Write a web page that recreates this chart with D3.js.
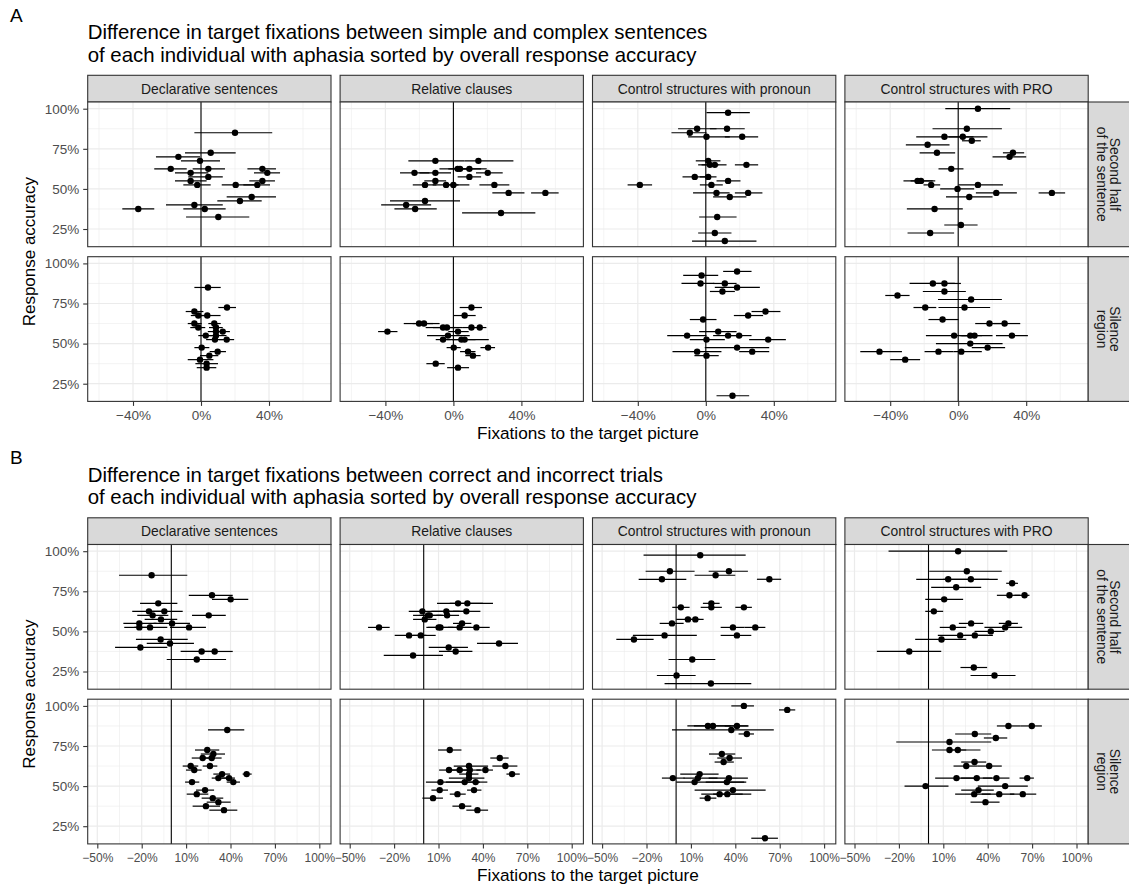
<!DOCTYPE html>
<html>
<head>
<meta charset="utf-8">
<script src="https://cdn.jsdelivr.net/npm/d3@7"></script>
<style>
  html, body { margin: 0; padding: 0; background: #fff; }
  svg { display: block; font-family: "Liberation Sans", Arial, Helvetica, sans-serif; }
</style>
</head>
<body>
<svg id="chart" width="1129" height="888"></svg>
<script>
// ---- categories and labels ----
const conditions = ["Declarative sentences", "Relative clauses", "Control structures with pronoun", "Control structures with PRO"];
const regions = [["Second half", "of the sentence"], ["Silence", "region"]];
const accuracyTicks = [25, 50, 75, 100];
const accuracyMinor = [37.5, 62.5, 87.5];
const fixTicksA = [-40, 0, 40];
const fixMinorA = [-60, -20, 20, 60];
const fixTicksB = [-50, -20, 10, 40, 70, 100];
const fixMinorB = [-35, -5, 25, 55, 85];
const titleA = ["Difference in target fixations between simple and complex sentences",
                "of each individual with aphasia sorted by overall response accuracy"];
const titleB = ["Difference in target fixations between correct and incorrect trials",
                "of each individual with aphasia sorted by overall response accuracy"];
const yTitle = "Response accuracy";
const xTitle = "Fixations to the target picture";

// ---- A: simple minus complex sentences; rows are [accuracy %, estimate %, lower %, upper %] ----
const scDeclarativeSecond = [
  [85, 20, -3.9, 41.9], [72.5, 5.7, -9.4, 20.4], [70, -13.3, -26.5, -0.6], [67.5, -0.6, -11.8, 11.2],
  [62.5, -17.8, -27.5, -8.4], [62.5, 4.3, -4.9, 14.1], [62.5, 36.1, 27.3, 44.1], [60, -6.1, -15.3, 4.3],
  [60, 39, 31.2, 46.5], [57.5, 4.3, -7.5, 12.8], [55, -6.1, -15.3, 3.3], [55, 36.1, 28.4, 43.5],
  [52.5, -2.2, -10.4, 5.7], [52.5, 20.4, 12.2, 32.7], [52.5, 33.1, 24.9, 40.6], [45, 29.8, 15.1, 44.1],
  [42.5, 22.9, 9.6, 35.7], [40, -3.9, -20.6, 12.8], [37.5, -36.9, -46.3, -27.5], [37.5, 2.2, -10.4, 14.5],
  [32.5, 10.2, -8.8, 28.4]
];
const scDeclarativeSilence = [
  [85, 4.1, -3.9, 11.6], [72.5, 15.3, 10.2, 20.6], [70, -3.9, -9, 1.4], [67.5, -1.6, -6, 3],
  [67.5, 3.7, -1, 11.5], [62.5, -3.9, -7.8, 0.4], [62.5, 7.8, 4.3, 11.6], [60, -1.6, -6.3, 2.5],
  [60, 8.8, 4.7, 12.8], [57.5, 8.8, 4, 13], [57.5, 12.8, 8.5, 17], [55, 2.8, -1.6, 7.3],
  [55, 8.8, 2.7, 15], [52.5, 8.2, 3, 13], [52.5, 15.1, 10.5, 19.5], [47.5, 0.4, -3.9, 4.9],
  [45, 9.8, 5.1, 14.7], [42.5, 4.9, -0.6, 10.2], [40, -0.6, -7.8, 7.3], [37.5, 3.3, -3.3, 10],
  [35, 3.3, -2.5, 9]
];
const scRelativeSecond = [
  [67.5, -10.6, -26.5, 6.5], [67.5, 14.7, 6.5, 35.3], [62.5, 2.5, -8.2, 10], [62.5, 3.9, -3, 16.3],
  [62.5, 9.4, 4.5, 19.6], [60, -22.9, -31.4, -14.1], [60, -10.6, -20, -1.4], [60, 20.2, 13.3, 29],
  [57.5, 9.4, 2.5, 16.3], [55, -10.6, -17.1, -4.3], [52.5, -16.7, -23.9, -10], [52.5, -4.3, -12.2, 3],
  [52.5, 0, -5, 9.4], [52.5, 24.1, 15.3, 32.9], [47.5, 32.5, 22.9, 41.8], [47.5, 54.1, 45.7, 61.9],
  [42.5, -16.7, -37.3, 3.9], [40, -27.8, -42.5, -13.1], [37.5, -22.5, -34.7, -9.8], [35, 28, 5.1, 48.2]
];
const scRelativeSilence = [
  [72.5, 10.6, 3.7, 16.8], [67.5, 6.6, 0.2, 13.1], [62.5, -20.2, -29.2, -12], [62.5, -17.3, -24, -8.1],
  [60, -6.1, -16.3, 2], [60, -3.8, -12, 5.6], [60, 10.6, 5.6, 15.5], [60, 15.5, 11, 19.4],
  [57.5, -38.8, -44.3, -32.9], [57.5, 2.7, -3, 9], [55, -3.2, -15.5, 9.6], [52.5, -6.1, -10.4, -1.5],
  [52.5, 4.7, -4, 13], [52.5, 6.6, -1, 20.8], [47.5, 0.2, -4, 4.3], [47.5, 20.4, 15.9, 24.5],
  [45, 8.6, 3.9, 13], [42.5, 11.5, 7, 16], [37.5, -10.4, -15.9, -5.1], [35, 2.7, -3.7, 9.2]
];
const scPronounSecond = [
  [97.5, 13.1, 0.4, 25.9], [87.5, -5.1, -16.3, 6.3], [87.5, 12.5, 2.4, 22.9], [85, -9.4, -20.2, 0.4],
  [82.5, 0.4, -10.4, 14.1], [82.5, 21.4, 11.2, 30.8], [67.5, 1.4, -5.9, 8.6], [65, 2.4, -2.5, 7.5],
  [65, 5.3, -4.5, 12.2], [65, 23.9, 17.1, 30.8], [57.5, -6.5, -13.7, 0.4], [57.5, 1.4, -3.5, 6.3],
  [55, 13.1, 6.3, 20.4], [52.5, -38.8, -46, -31.6], [52.5, 3.3, -3.5, 10], [47.5, 6.3, -7.5, 14],
  [47.5, 24.9, 17.1, 33.3], [45, 14.1, 4.3, 23.9], [32.5, 6.7, -3.9, 18.1], [22.5, 5.3, -4.5, 15.1],
  [17.5, 11.2, -8.1, 29.8]
];
const scPronounSilence = [
  [95, 18.4, 10.2, 26.9], [92.5, -2.5, -13.3, 7.3], [87.5, -3.1, -14.3, 5], [87.5, 11.2, 4.3, 18.1],
  [85, 18.4, 5.3, 31.8], [82.5, 9.8, 2.4, 17.1], [70, 35.1, 26.9, 43.9], [67.5, 24.9, 16.5, 33.7],
  [65, -1.6, -9.4, 6.3], [57.5, 7.3, -3.9, 18.1], [55, -11, -22.7, 0.4], [55, 13.1, 4.3, 21.9],
  [55, 19.6, 13.1, 26.9], [52.5, 0.4, -9.4, 11.2], [52.5, 36.7, 25.5, 47.1], [47.5, 18.4, -0.6, 37.3],
  [45, -5.1, -19.6, 9.2], [45, 27.3, 19.6, 37.3], [42.5, 0.4, -6.7, 7.6], [17.5, 15.7, 6.3, 25.5]
];
const scProSecond = [
  [100, 11.6, -7.6, 30.6], [87.5, 5.1, -15.1, 25.7], [82.5, -8.1, -24.7, 9], [82.5, 2.7, -5.7, 17.2],
  [80, 8, 2.2, 13.3], [77.5, -18, -30.8, -5.1], [72.5, -12.5, -22.7, -1.8], [72.5, 32.2, 26.3, 38.8],
  [70, 30.2, 20.2, 40], [62.5, -4.1, -11.6, 3.1], [55, -23.9, -32.2, -15], [55, -21.9, -28, -13.5],
  [52.5, -15.9, -20.4, -10.6], [52.5, 11.6, 0.2, 26.3], [50, -0.4, -10.6, 9.4], [47.5, 22.4, 10.4, 34.5],
  [47.5, 55.1, 47.3, 62.9], [45, 6.5, -7.2, 20.2], [37.5, -13.9, -30.2, 2.7], [27.5, 1.6, -8.2, 11.4],
  [22.5, -16.5, -29.8, -2.4]
];
const scProSilence = [
  [87.5, -14.9, -28.6, -2], [87.5, -8.1, -16, 1.6], [82.5, -8.1, -20.8, 4.5], [80, -35.7, -42.9, -28.6],
  [77.5, 7.6, -11.9, 25.7], [72.5, -19.4, -26.3, -12.9], [72.5, 3.7, -11.6, 18.8], [65, -9.2, -17.5, 0.2],
  [62.5, 18.4, 10, 26.7], [62.5, 27.3, 20.8, 36.5], [55, -2.4, -19, 10], [55, 7.1, 2, 14],
  [55, 9.6, 1.2, 20.2], [55, 31.6, 22.2, 41], [50, 7.1, -13.1, 26.1], [47.5, 17.3, 8, 27.6],
  [45, -46.3, -57.6, -33.1], [45, -11.6, -19.8, -2.7], [45, 1.8, -2.7, 13.9], [40, -31.2, -40, -22.4]
];

// ---- B: correct minus incorrect trials ----
const ciDeclarativeSecond = [
  [85, -13.3, -35.3, 10.8], [72.5, 27.5, 11.8, 41.5], [70, 40.1, 27.5, 52], [67.5, -8.8, -21.1, 4.1],
  [62.5, -15.1, -26.4, -3], [62.5, -4.7, -15, 7.7], [60, -12.6, -23, -2], [60, 25.3, 14, 36.8],
  [57.5, -7, -18, 4], [55, -21.6, -32.4, -10], [55, 0.5, -12, 12.6], [52.5, -21.6, -31.8, -12],
  [52.5, -14.4, -25, -2.7], [52.5, 12, -0.9, 23.4], [45, -7.2, -23.9, 11.1], [42.5, -0.9, -16.6, 15.3],
  [40, -20.9, -38, -2.7], [37.5, 20.5, 6.3, 28.4], [37.5, 29.3, 21.6, 41.5], [32.5, 17.2, -3.1, 37]
];
const ciDeclarativeSilence = [
  [85, 37.8, 24.8, 49.3], [72.5, 24.3, 16, 32.4], [70, 28.4, 19.9, 36.3], [67.5, 21.2, 13.8, 29.5],
  [67.5, 27.3, 21, 34], [62.5, 13.1, 7.7, 18.2], [62.5, 26.1, 21.2, 31.1], [60, 15.5, 9.9, 20.5],
  [57.5, 34.3, 28.4, 39.7], [57.5, 50.9, 48.2, 54.3], [55, 31.8, 27.3, 37.4], [55, 39, 34, 43],
  [52.5, 41.9, 37.4, 46.4], [52.5, 14, 9.3, 18.9], [47.5, 22.8, 16.7, 28.9], [45, 17.2, 10.4, 25],
  [42.5, 28, 20.5, 35.1], [40, 31.8, 23.9, 40.1], [37.5, 23.4, 14.4, 32.9], [35, 35.6, 25.7, 44.6]
];
const ciRelativeSecond = [
  [67.5, 23.2, 9, 46.8], [67.5, 29.5, 17.6, 40], [62.5, -0.9, -10.1, 24.3], [62.5, 15.3, 5.2, 26.6],
  [62.5, 28.8, 19.8, 38.3], [60, 2.9, -7.2, 13], [60, 4.1, -3, 12], [60, 15.8, 8.6, 23.9],
  [57.5, 0.7, -7.2, 8.6], [55, 25.9, 19.8, 32.2], [52.5, -30.2, -37.6, -23], [52.5, 10.1, 1.8, 20],
  [52.5, 11.3, 3, 24.3], [52.5, 24.3, 16.4, 32.2], [52.5, 35.6, 27.7, 44.6], [47.5, -9.9, -19.6, 1.8],
  [47.5, -2, -7.2, 8.1], [42.5, 50.9, 36, 63.7], [40, 16.9, 3.4, 29.9], [37.5, 21.6, 10.3, 32.9],
  [35, -7.2, -27, 13]
];
const ciRelativeSilence = [
  [72.5, 17.6, 9.7, 25.5], [67.5, 51.4, 45, 57.4], [62.5, 55.2, 46.4, 63.3], [62.5, 30.6, 20.3, 43.5],
  [60, 17.1, 10.4, 24.3], [60, 24.3, 17.6, 30.6], [60, 31.1, 24.3, 38.5], [60, 41.7, 35.6, 46.8],
  [57.5, 59.7, 55.9, 64.9], [57.5, 30.6, 24, 37], [55, 30.6, 17, 41], [52.5, 11.3, 1.5, 25],
  [52.5, 27.7, 15, 38], [52.5, 35.1, 25, 43], [47.5, 10.8, 5.2, 16.4], [47.5, 34, 29.3, 39],
  [45, 22.8, 17.6, 28.4], [42.5, 6.3, -0.9, 13], [37.5, 25.9, 19.4, 32.2], [35, 36.3, 28.8, 43.5]
];
const ciPronounSecond = [
  [97.5, 16.3, -22, 47], [87.5, -4.2, -20.6, 12.5], [87.5, 35.7, 22, 48.5], [85, 26.7, 12.5, 40],
  [82.5, -9.6, -25.3, 6.9], [82.5, 63, 54.6, 71], [67.5, 23.8, 18.1, 29.4], [65, 23.8, 16.6, 30.9],
  [65, 3.2, -2.6, 9.1], [65, 45.8, 40, 51.2], [57.5, 8, 0.1, 15.9], [57.5, 13, 5.7, 18.6],
  [55, -2.8, -11.1, 5.1], [52.5, 38.4, 30.1, 46.3], [52.5, 53.5, 46.3, 60.3], [47.5, -7.8, -29.2, 14],
  [47.5, 41.1, 30.1, 50.8], [45, -28.5, -40.4, -15.2], [32.5, 10.9, -5.1, 26.5], [22.5, 0.3, -13, 13.2],
  [17.5, 23.5, -7.8, 50.8]
];
const ciPronounSilence = [
  [100, 45.8, 37.3, 52.6], [97.5, 75.1, 69.5, 80.5], [87.5, 21.5, 7.6, 37], [87.5, 24.9, 12, 48.5],
  [87.5, 41.1, 32.8, 49], [85, 37.3, -2.8, 66], [82.5, 47.8, 42.2, 52.6], [70, 30.9, 22.2, 40],
  [67.5, 36.1, 27.8, 44.5], [65, 32.1, 26, 39], [57.5, 15.9, 2.8, 28.7], [55, -2.2, -9.6, 5.7],
  [55, 14.7, 5, 28], [55, 35.7, 22, 48.5], [52.5, 12.5, 0.1, 47.4], [52.5, 34.3, 20, 46],
  [47.5, 38.4, 12.5, 60.5], [45, 29.4, 17, 50.8], [45, 34.6, 25, 45], [42.5, 21.3, 15.9, 27.2],
  [17.5, 60, 50.8, 68.8]
];
const ciProSecond = [
  [100, 20, -27, 53.2], [87.5, 25.9, 0.5, 49.5], [82.5, 13.3, -8.3, 41], [82.5, 28.6, 10, 46.8],
  [80, 56.5, 52.5, 60.4], [77.5, 18.7, 1.8, 35.6], [72.5, 54.7, 46.2, 62], [72.5, 64.9, 58.1, 68.2],
  [70, 10.6, -2.2, 23.4], [62.5, 3.6, -2.2, 9.9], [55, 28.8, 20.5, 37], [55, 54, 47.5, 60.4],
  [52.5, 16.4, 7.6, 25.5], [52.5, 51.8, 37.8, 63.3], [50, 42.1, 31.1, 51.4], [47.5, 21.4, 6.3, 40.1],
  [47.5, 31.3, 24.3, 43.5], [45, 8.8, -9, 25.5], [37.5, -13, -34.9, 8.6], [27.5, 30.6, 21.6, 39.6],
  [22.5, 44.6, 28.4, 58.8]
];
const ciProSilence = [
  [87.5, 54, 46.2, 62], [87.5, 69.8, 62, 76.6], [82.5, 31.3, 18, 42.4], [80, 45.5, 37.4, 53.2],
  [77.5, 14.2, -21.8, 42.4], [72.5, 14.2, 2.3, 25.5], [72.5, 19.8, 13, 35.1], [65, 31.1, 22.1, 39],
  [62.5, 25.5, 16.9, 33.3], [62.5, 41, 33.3, 49.5], [55, 18.9, 4.5, 33.3], [55, 32.6, 22, 43],
  [55, 45.9, 36.7, 54.7], [55, 66.7, 61.5, 71.2], [50, -2, -16.2, 13.5], [50, 51.8, 33.3, 67.1],
  [47.5, 33.8, 22.1, 44.1], [45, 30.9, 18, 42], [45, 47.8, 36, 58], [45, 63.7, 55, 72.8],
  [40, 38.5, 28.4, 48]
];

// ---- layout ----
const W = 1129;
const colLeft0 = 87.7, colStep = 252.4, panelW = 243.3;
const stripTop = 75.3, stripH = 26.7;
const rowTop0 = 102, rowH = 144.7, rowGap = 10;
const rightStripX = colLeft0 + 3 * colStep + panelW;
const rightStripW = W - rightStripX;
const sectionOffset = 442.5;
const FONT_TICK = 13.5, FONT_STRIP = 13.9, FONT_XAXIS = 17.2, FONT_YAXIS = 17, FONT_TITLE = 20.4, FONT_TAG = 19;

const pct = v => (v < 0 ? "\u2212" : "") + Math.abs(v) + "%";

const parts = [
  { tag: "A", title: titleA, offset: 0, xDomain: [-66.65, 76.47], ticks: fixTicksA, minor: fixMinorA, xTickFont: FONT_TICK,
    data: [[scDeclarativeSecond, scRelativeSecond, scPronounSecond, scProSecond],
           [scDeclarativeSilence, scRelativeSilence, scPronounSilence, scProSilence]] },
  // six tick labels per panel sit close together, so they get a slightly smaller size
  { tag: "B", title: titleB, offset: sectionOffset, xDomain: [-56.49, 107.9], ticks: fixTicksB, minor: fixMinorB, xTickFont: 12,
    data: [[ciDeclarativeSecond, ciRelativeSecond, ciPronounSecond, ciProSecond],
           [ciDeclarativeSilence, ciRelativeSilence, ciPronounSilence, ciProSilence]] }
];

const svg = d3.select("#chart");
svg.append("rect").attr("width", W).attr("height", 888).attr("fill", "#fff");

const y = d3.scaleLinear().domain([13.97, 104.18]).range([rowH, 0]);

parts.forEach(p => {
  const g = svg.append("g").attr("transform", `translate(0,${p.offset})`);
  const x = d3.scaleLinear().domain(p.xDomain).range([0, panelW]);

  g.append("text").attr("x", 10).attr("y", 21.7)
    .attr("font-size", FONT_TAG).attr("fill", "#000").text(p.tag);

  g.selectAll("text.title").data(p.title).join("text")
    .attr("class", "title")
    .attr("x", colLeft0).attr("y", (d, i) => 39.3 + i * 22.4)
    .attr("font-size", FONT_TITLE).attr("fill", "#000").text(d => d);

  conditions.forEach((cond, ci) => {
    const left = colLeft0 + ci * colStep;

    // facet strip on top
    const s = g.append("g").attr("transform", `translate(${left},${stripTop})`);
    s.append("rect").attr("width", panelW).attr("height", stripH)
      .attr("fill", "#d9d9d9").attr("stroke", "#333").attr("stroke-width", 1.1);
    s.append("text").attr("x", panelW / 2).attr("y", stripH / 2).attr("dy", "0.36em")
      .attr("text-anchor", "middle").attr("font-size", FONT_STRIP).attr("fill", "#1a1a1a").text(cond);

    regions.forEach((reg, ri) => {
      const top = rowTop0 + ri * (rowH + rowGap);
      const pg = g.append("g").attr("transform", `translate(${left},${top})`);
      const rows = p.data[ri][ci];

      pg.append("rect").attr("width", panelW).attr("height", rowH).attr("fill", "#fff");

      // minor grid
      pg.append("g").selectAll("line").data(p.minor).join("line")
        .attr("x1", d => x(d)).attr("x2", d => x(d)).attr("y1", 0).attr("y2", rowH)
        .attr("stroke", "#ebebeb").attr("stroke-width", 0.6);
      pg.append("g").selectAll("line").data(accuracyMinor).join("line")
        .attr("y1", d => y(d)).attr("y2", d => y(d)).attr("x1", 0).attr("x2", panelW)
        .attr("stroke", "#ebebeb").attr("stroke-width", 0.6);
      // major grid
      pg.append("g").selectAll("line").data(p.ticks).join("line")
        .attr("x1", d => x(d)).attr("x2", d => x(d)).attr("y1", 0).attr("y2", rowH)
        .attr("stroke", "#ebebeb").attr("stroke-width", 1.2);
      pg.append("g").selectAll("line").data(accuracyTicks).join("line")
        .attr("y1", d => y(d)).attr("y2", d => y(d)).attr("x1", 0).attr("x2", panelW)
        .attr("stroke", "#ebebeb").attr("stroke-width", 1.2);

      // zero reference line
      pg.append("line").attr("x1", x(0)).attr("x2", x(0)).attr("y1", 0).attr("y2", rowH)
        .attr("stroke", "#000").attr("stroke-width", 1.1);

      // interval lines and point estimates
      pg.append("g").selectAll("line").data(rows).join("line")
        .attr("x1", d => x(d[2])).attr("x2", d => x(d[3]))
        .attr("y1", d => y(d[0])).attr("y2", d => y(d[0]))
        .attr("stroke", "#000").attr("stroke-width", 1.2);
      pg.append("g").selectAll("circle").data(rows).join("circle")
        .attr("cx", d => x(d[1])).attr("cy", d => y(d[0])).attr("r", 3.2).attr("fill", "#000");

      pg.append("rect").attr("width", panelW).attr("height", rowH)
        .attr("fill", "none").attr("stroke", "#333").attr("stroke-width", 1.1);

      if (ci === 0) {
        pg.append("g")
          .call(d3.axisLeft(y).tickValues(accuracyTicks).tickFormat(pct).tickSize(4.5).tickPadding(3.9))
          .call(a => a.select(".domain").remove())
          .attr("font-family", null).attr("font-size", FONT_TICK)
          .call(a => a.selectAll("line").attr("stroke", "#333").attr("stroke-width", 1.1))
          .call(a => a.selectAll("text").attr("fill", "#4d4d4d"));
      }
      if (ri === 1) {
        pg.append("g").attr("transform", `translate(0,${rowH})`)
          .call(d3.axisBottom(x).tickValues(p.ticks).tickFormat(pct).tickSize(4.5).tickPadding(4.3 + (FONT_TICK - p.xTickFont) * 0.35))
          .call(a => a.select(".domain").remove())
          .attr("font-family", null).attr("font-size", p.xTickFont)
          .call(a => a.selectAll("line").attr("stroke", "#333").attr("stroke-width", 1.1))
          .call(a => a.selectAll("text").attr("fill", "#4d4d4d"));
      }
    });
  });

  // facet strips on the right
  regions.forEach((reg, ri) => {
    const top = rowTop0 + ri * (rowH + rowGap);
    const s = g.append("g").attr("transform", `translate(${rightStripX},${top})`);
    s.append("rect").attr("width", rightStripW + 2).attr("height", rowH)
      .attr("fill", "#d9d9d9").attr("stroke", "#333").attr("stroke-width", 1.1);
    const t = s.append("g").attr("transform", `translate(${20.5},${rowH / 2}) rotate(90)`);
    t.selectAll("text").data(reg).join("text")
      .attr("x", 0).attr("y", (d, i) => (i - (reg.length - 1) / 2) * 13.3)
      .attr("dy", "0.36em").attr("text-anchor", "middle")
      .attr("font-size", FONT_STRIP).attr("fill", "#1a1a1a").text(d => d);
  });

  // axis titles
  const panelsMidY = rowTop0 + (2 * rowH + rowGap) / 2;
  g.append("text").attr("transform", `translate(35,${panelsMidY}) rotate(-90)`)
    .attr("text-anchor", "middle").attr("font-size", FONT_YAXIS).attr("fill", "#000").text(yTitle);
  g.append("text").attr("x", (colLeft0 + rightStripX) / 2).attr("y", 438.7)
    .attr("text-anchor", "middle").attr("font-size", FONT_XAXIS).attr("fill", "#000").text(xTitle);
});
</script>
</body>
</html>
